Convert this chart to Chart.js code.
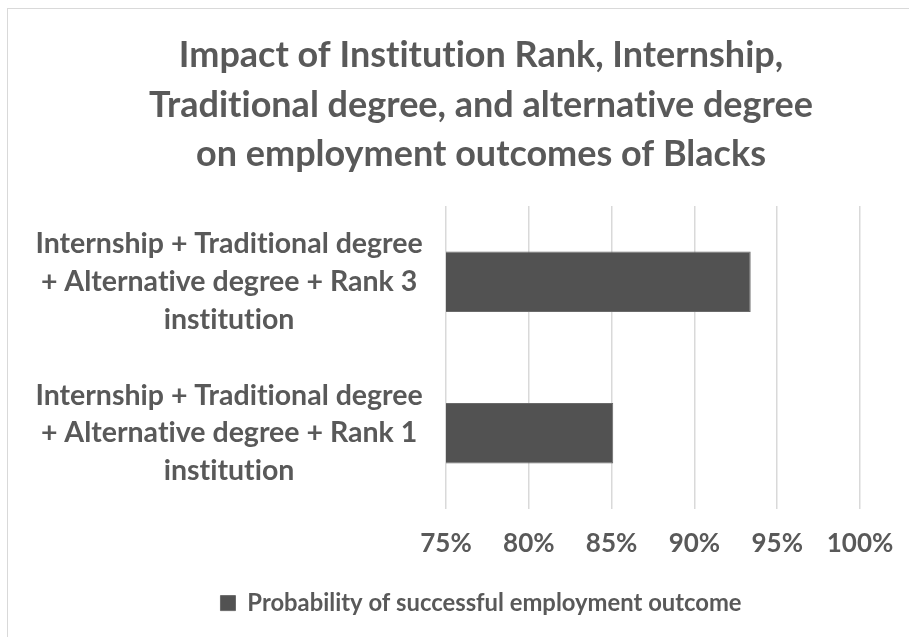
<!DOCTYPE html>
<html>
<head>
<meta charset="utf-8">
<script src="https://cdn.jsdelivr.net/npm/chart.js@4"></script>
<style>
  html, body { margin: 0; padding: 0; background: #fff; overflow: hidden; }
  #frame {
    position: absolute; left: 7px; top: 8px;
    width: 946px; height: 640px;
    border: 1px solid #d9d9d9;
  }
  #chart { display: block; }
</style>
</head>
<body>
<div id="frame"><canvas id="chart" width="946" height="640"></canvas></div>
<script>
const titleLines = [
  'Impact of Institution Rank, Internship,',
  'Traditional degree, and alternative degree',
  'on employment outcomes of Blacks'
];
const categories = [
  ['Internship + Traditional degree', '+ Alternative degree + Rank 3', 'institution'],
  ['Internship + Traditional degree', '+ Alternative degree + Rank 1', 'institution']
];
const seriesName = 'Probability of successful employment outcome';
const probability = [93.4, 85.1];
const xMin = 75, xMax = 100, xStep = 5;

const grey = '#595959';
const fontFamily = 'Lato, "Open Sans", sans-serif';

// plain glyphs (no "ti" ligatures), and let the long category labels
// spill left of the y axis box without being clipped
const labelTweaks = {
  id: 'labelTweaks',
  afterLayout(chart) { chart.scales.y.left = 0; },
  beforeDraw(chart) { chart.ctx.textRendering = 'optimizeSpeed'; }
};

new Chart(document.getElementById('chart'), {
  type: 'bar',
  data: {
    labels: categories,
    datasets: [{
      label: seriesName,
      data: probability,
      backgroundColor: '#525252',
      borderColor: '#6a6a6a',
      borderWidth: 1,
      borderSkipped: false,
      barPercentage: 0.4,
      categoryPercentage: 1
    }]
  },
  plugins: [labelTweaks],
  options: {
    indexAxis: 'y',
    responsive: false,
    animation: false,
    layout: { padding: { left: 94, right: 94, top: 22, bottom: 24 } },
    plugins: {
      title: {
        display: true,
        text: titleLines,
        color: grey,
        font: { family: fontFamily, size: 36, weight: 'bold', lineHeight: 1.37 },
        padding: { top: 0, bottom: 27 }
      },
      legend: {
        position: 'bottom',
        labels: {
          color: grey,
          padding: 13,
          boxWidth: 15,
          boxHeight: 15,
          font: { family: fontFamily, size: 23.8, weight: 'bold' }
        }
      },
      tooltip: { enabled: false }
    },
    scales: {
      x: {
        min: xMin,
        max: xMax,
        ticks: {
          stepSize: xStep,
          color: grey,
          padding: 19,
          font: { family: fontFamily, size: 26, weight: 'bold' },
          callback: v => v + '%'
        },
        grid: { color: '#d9d9d9', lineWidth: 1.5, drawTicks: false },
        border: { display: false }
      },
      y: {
        afterFit(axis) { axis.width = 344; },
        ticks: {
          color: grey,
          crossAlign: 'center',
          padding: 23,
          font: { family: fontFamily, size: 28.5, weight: 'bold', lineHeight: 1.32 }
        },
        grid: { display: false, drawTicks: false },
        border: { display: false }
      }
    }
  }
});
</script>
</body>
</html>
